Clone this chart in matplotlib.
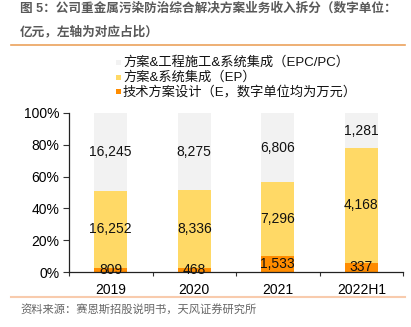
import matplotlib
matplotlib.use("Agg")
import matplotlib.pyplot as plt
from matplotlib.patches import Rectangle
from matplotlib.lines import Line2D
import numpy as np

plt.rcParams['font.family'] = ['Liberation Sans', 'Noto Sans CJK SC', 'DejaVu Sans']

categories = ["2019", "2020", "2021", "2022H1"]
series_names = ["方案&工程施工&系统集成（EPC/PC）", "方案&系统集成（EP）", "技术方案设计（E，数字单位均为万元）"]
epc = [16245, 8275, 6806, 1281]
ep = [16252, 8336, 7296, 4168]
e = [809, 468, 1533, 337]
yticks = [0, 0.2, 0.4, 0.6, 0.8, 1.0]
title_lines = ["图 5：公司重金属污染防治综合解决方案业务收入拆分（数字单位：", "亿元，左轴为对应占比）"]
source = "资料来源：赛恩斯招股说明书，天风证券研究所"

colors = ["#F2F2F2", "#FFD966", "#FF8C00"]

W, H = 411, 327
fig = plt.figure(figsize=(W / 100, H / 100), dpi=100)
ax = fig.add_axes([69 / W, 55 / H, 334 / W, 159 / H])

x = np.arange(len(categories))
vals = np.array([e, ep, epc], dtype=float)
totals = vals.sum(axis=0)
shares = vals / totals
bottom = np.zeros(len(categories))
for i, (sh, raw, col) in enumerate(zip(shares, vals, [colors[2], colors[1], colors[0]])):
    ax.bar(x, sh, width=0.4, bottom=bottom, color=col, edgecolor='none', zorder=2)
    for xi, s, b, r in zip(x, sh, bottom, raw):
        ax.text(xi, b + s / 2, f"{int(r):,}", ha='center', va='center', fontsize=10, color='#111111', zorder=3)
    bottom += sh

ax.set_xlim(-0.5, len(categories) - 0.5)
ax.set_ylim(0, 1)
ax.set_yticks(yticks)
ax.set_yticklabels([f"{int(round(t * 100))}%" for t in yticks], fontsize=10)
ax.set_xticks(np.arange(-0.5, len(categories), 1.0))
ax.set_xticklabels([])
ax.set_xticks(x, minor=True)
ax.set_xticklabels(categories, minor=True, fontsize=10)
ax.tick_params(axis='x', which='major', direction='out', length=3, width=0.8, color='#333333')
ax.tick_params(axis='x', which='minor', length=0, pad=8)
ax.tick_params(axis='y', direction='out', length=4, width=0.8, color='#333333', pad=3)
for s in ['top', 'right']:
    ax.spines[s].set_visible(False)
for s in ['left', 'bottom']:
    ax.spines[s].set_color('#222222')
    ax.spines[s].set_linewidth(0.9)

# Title
fig.text(20 / W, 1 - 9 / H, title_lines[0], fontsize=9.1, color='#595959', fontweight='bold', va='center', ha='left')
fig.text(20 / W, 1 - 32 / H, title_lines[1], fontsize=9.1, color='#595959', fontweight='bold', va='center', ha='left')
fig.add_artist(Line2D([11 / W, 405 / W], [1 - 45 / H, 1 - 45 / H], color='#EBA25C', lw=1.2))

# Legend
leg_y = [62, 77, 92]
for name, col, yy in zip(series_names, colors, leg_y):
    fig.add_artist(Rectangle((116 / W, 1 - (yy + 2.5) / H), 5 / W, 5 / H, facecolor=col, edgecolor='none'))
    fig.text(123 / W, 1 - yy / H, name, fontsize=9.5, color='#111111', va='center', ha='left')

# Source
fig.add_artist(Line2D([11 / W, 405 / W], [1 - 297 / H, 1 - 297 / H], color='#F8CBAD', lw=1.5))
fig.text(20 / W, 1 - 310 / H, source, fontsize=8.1, color='#666666', va='center', ha='left')

fig.savefig("out.png", dpi=100)
